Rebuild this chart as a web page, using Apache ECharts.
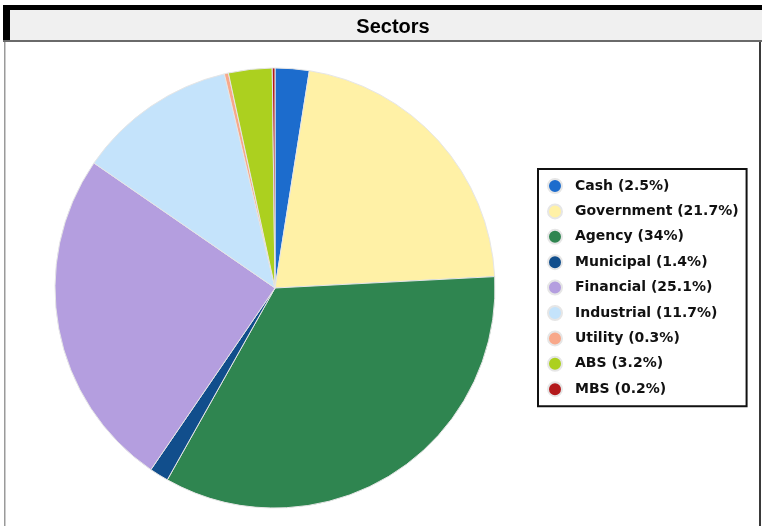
<!DOCTYPE html>
<html>
<head>
<meta charset="utf-8">
<script src="https://cdn.jsdelivr.net/npm/echarts@6/dist/echarts.min.js"></script>
<style>
  html, body { margin: 0; padding: 0; background: #fff; }
  #chart { width: 762px; height: 526px; }
</style>
</head>
<body>
<div id="chart"></div>
<script>
// Portfolio sector breakdown (percent of holdings)
const sectors = ['Cash', 'Government', 'Agency', 'Municipal', 'Financial', 'Industrial', 'Utility', 'ABS', 'MBS'];
const shares = [2.5, 21.7, 34, 1.4, 25.1, 11.7, 0.3, 3.2, 0.2];
const sectorColors = ['#1c6ccd', '#fff1a6', '#2f8550', '#114e8c', '#b49edf', '#c4e3fb', '#f8a88a', '#acd01f', '#b3191b'];

const legendLabel = {};
sectors.forEach((s, i) => { legendLabel[s] = s + ' (' + shares[i] + '%)'; });

const chart = echarts.init(document.getElementById('chart'), null, { renderer: 'canvas' });

chart.setOption({
  animation: false,
  backgroundColor: '#ffffff',
  graphic: [
    // panel frame: black top/left edge, grey title strip, thin chart border
    { type: 'rect', shape: { x: 3, y: 5, width: 759, height: 5 }, style: { fill: '#000' }, z: 10 },
    { type: 'rect', shape: { x: 3, y: 5, width: 7, height: 37 }, style: { fill: '#000' }, z: 10 },
    { type: 'rect', shape: { x: 10, y: 10, width: 752, height: 30 }, style: { fill: '#f0f0f0' }, z: 9 },
    { type: 'rect', shape: { x: 3, y: 40, width: 759, height: 2 }, style: { fill: '#6a6a6a' }, z: 10 },
    { type: 'rect', shape: { x: 4, y: 42, width: 1.5, height: 484 }, style: { fill: '#9a9a9a' }, z: 10 },
    { type: 'rect', shape: { x: 759, y: 42, width: 2, height: 484 }, style: { fill: '#3a3a3a' }, z: 10 }
  ],
  title: {
    text: 'Sectors',
    left: 388,
    top: 12,
    textAlign: 'center',
    textStyle: { fontFamily: 'Liberation Sans', fontWeight: 'bold', fontSize: 20, color: '#000' },
    z: 20
  },
  legend: {
    orient: 'vertical',
    left: 538,
    top: 169,
    width: 209,
    height: 236,
    padding: [9, 8, 9, 9],
    itemGap: 9.4,
    itemWidth: 14,
    itemHeight: 14,
    icon: 'circle',
    borderColor: '#111',
    borderWidth: 2,
    backgroundColor: '#fff',
    data: sectors,
    formatter: name => legendLabel[name],
    textStyle: { fontFamily: 'DejaVu Sans', fontWeight: 'bold', fontSize: 14, lineHeight: 14, color: '#111', padding: [0, 0, 0, 8] }
  },
  series: [{
    type: 'pie',
    center: [275, 288],
    radius: ['0%', 220],
    startAngle: 90,
    clockwise: true,
    label: { show: false },
    labelLine: { show: false },
    emphasis: { disabled: true },
    itemStyle: { borderColor: '#e6e6e6', borderWidth: 1 },
    data: sectors.map((s, i) => ({ name: s, value: shares[i], itemStyle: { color: sectorColors[i] } }))
  }]
});
</script>
</body>
</html>
